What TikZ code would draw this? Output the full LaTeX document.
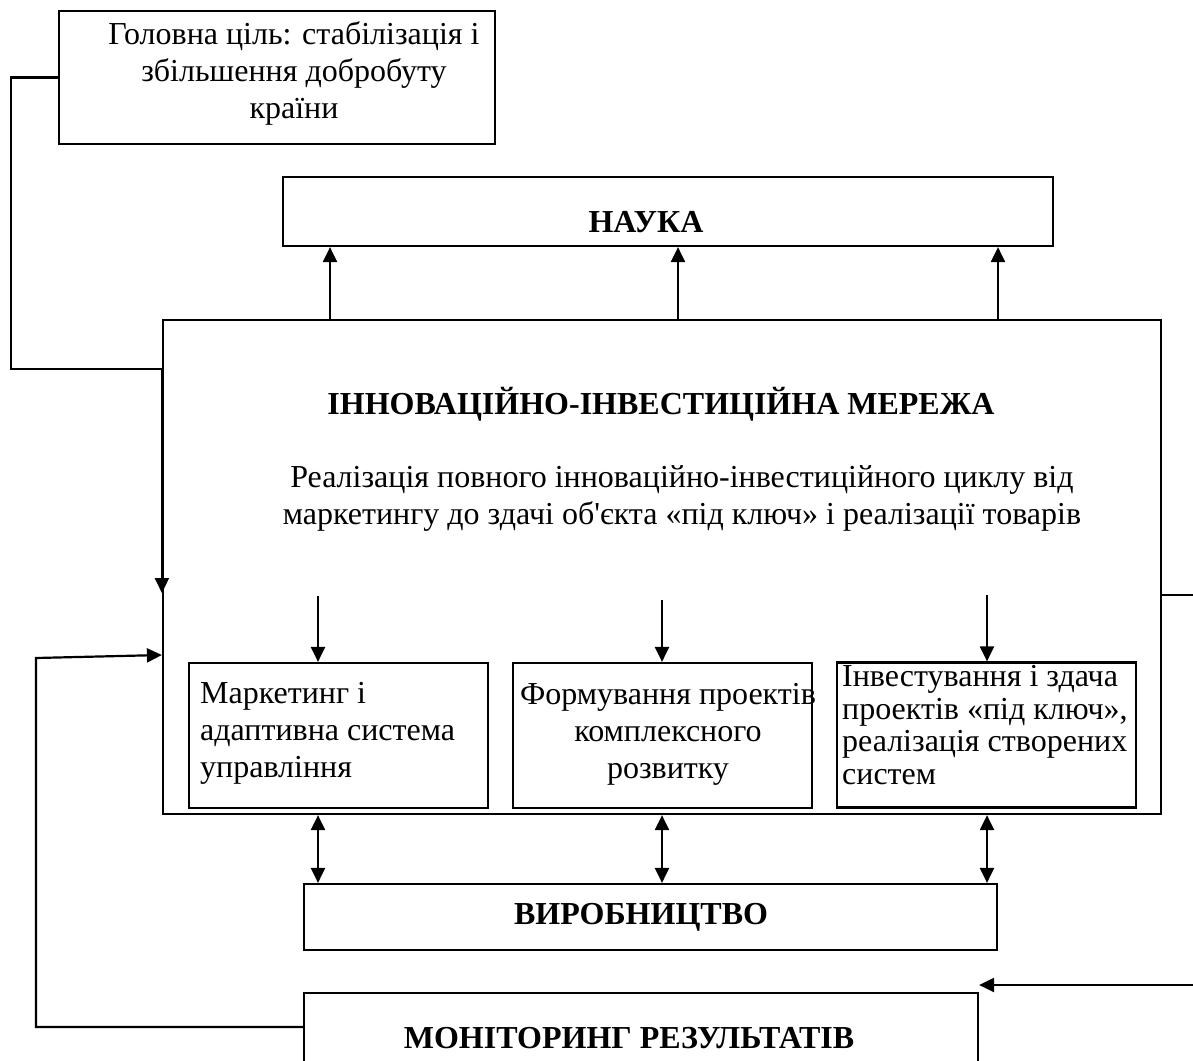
\documentclass[tikz,border=0pt]{standalone}
\usepackage{fontspec}
\setmainfont{Liberation Serif}[Ligatures=TeXOff]
\usetikzlibrary{arrows.meta}
\begin{document}
\begin{tikzpicture}[x=1pt,y=-1pt,
  box/.style={draw,line width=2.2pt,inner sep=0pt},
  txt/.style={inner sep=0pt,font=\fontsize{32}{37}\selectfont},
  btxt/.style={inner sep=0pt,font=\fontsize{32}{37}\selectfont\bfseries},
  arr/.style={line width=2.2pt,-{Triangle[length=15pt,width=14pt]}},
  darr/.style={line width=2.2pt,{Triangle[length=15pt,width=14pt]}-{Triangle[length=15pt,width=14pt]}}]
\useasboundingbox (0,0) rectangle (1193,1060);
% boxes
\node[box,minimum width=436pt,minimum height=133pt] (goal) at (277,77.5) {};
\node[box,minimum width=770pt,minimum height=69pt] (nauka) at (668,211.5) {};
\node[box,minimum width=998pt,minimum height=494pt] (main) at (662,567) {};
\node[box,minimum width=299pt,minimum height=145pt] (b1) at (338.5,735.5) {};
\node[box,minimum width=299pt,minimum height=145pt] (b2) at (662.5,735.5) {};
\node[box,minimum width=299pt,minimum height=145pt] (b3) at (986.5,735) {};
\node[box,minimum width=693pt,minimum height=66pt] (prod) at (650.5,917) {};
\node[box,minimum width=674pt,minimum height=100pt] (mon) at (641,1043) {};
% texts (base anchor = baseline of the last line)
\node[txt,align=center,anchor=base] (tgoal) at (294,118) {Головна ціль: стабілізація і\\збільшення добробуту\\країни};
\node[btxt,anchor=base] (tnauka) at (646,232) {НАУКА};
\node[btxt,anchor=base] (tmain) at (661,414) {ІННОВАЦІЙНО-ІНВЕСТИЦІЙНА МЕРЕЖА};
\node[txt,align=center,anchor=base] (tsub) at (682,524) {Реалізація повного інноваційно-інвестиційного циклу від\\маркетингу до здачі об'єкта «під ключ» і реалізації товарів};
\node[txt,align=left,anchor=base west] (tb1) at (200,777) {Маркетинг і\\адаптивна система\\управління};
\node[txt,align=center,anchor=base] (tb2) at (668,778) {Формування проектів\\комплексного\\розвитку};
\node[txt,align=left,anchor=base west,font=\fontsize{32}{32.5}\selectfont] (tb3) at (842,784) {Інвестування і здача\\проектів «під ключ»,\\реалізація створених\\систем};
\node[btxt,anchor=base] (tprod) at (641,924) {ВИРОБНИЦТВО};
\node[btxt,anchor=base] (tmon) at (629,1048) {МОНІТОРИНГ РЕЗУЛЬТАТІВ};
% helper x positions
\coordinate (xa) at (330,0);
\coordinate (xb) at (678,0);
\coordinate (xc) at (998,0);
\coordinate (x1) at (318,0);
\coordinate (x2) at (662,0);
\coordinate (x3) at (987,0);
% main -> nauka
\draw[arr] (main.north -| xa) -- (nauka.south -| xa);
\draw[arr] (main.north -| xb) -- (nauka.south -| xb);
\draw[arr] (main.north -| xc) -- (nauka.south -| xc);
% into sub boxes
\draw[arr] (x1 |- 0,596) -- (b1.north -| x1);
\draw[arr] (x2 |- 0,600) -- (b2.north -| x2);
\draw[arr] (x3 |- 0,595) -- (b3.north -| x3);
% main <-> production
\draw[darr] (main.south -| x1) -- (prod.north -| x1);
\draw[darr] (main.south -| x2) -- (prod.north -| x2);
\draw[darr] (main.south -| x3) -- (prod.north -| x3);
% goal -> main
\draw[arr] (goal.west) -- ++(-47,0) |- (main.west |- 0,369) -- (main.west |- 0,593);
% monitoring feedback -> main
\draw[arr] (mon.west |- 0,1027) -- (36,1027) -- (36,658) -- (main.west |- 0,655);
% main -> monitoring (right loop)
\draw[arr] (main.east |- 0,595) -- (1205,595) |- (mon.east |- 0,985);
\end{tikzpicture}
\end{document}
